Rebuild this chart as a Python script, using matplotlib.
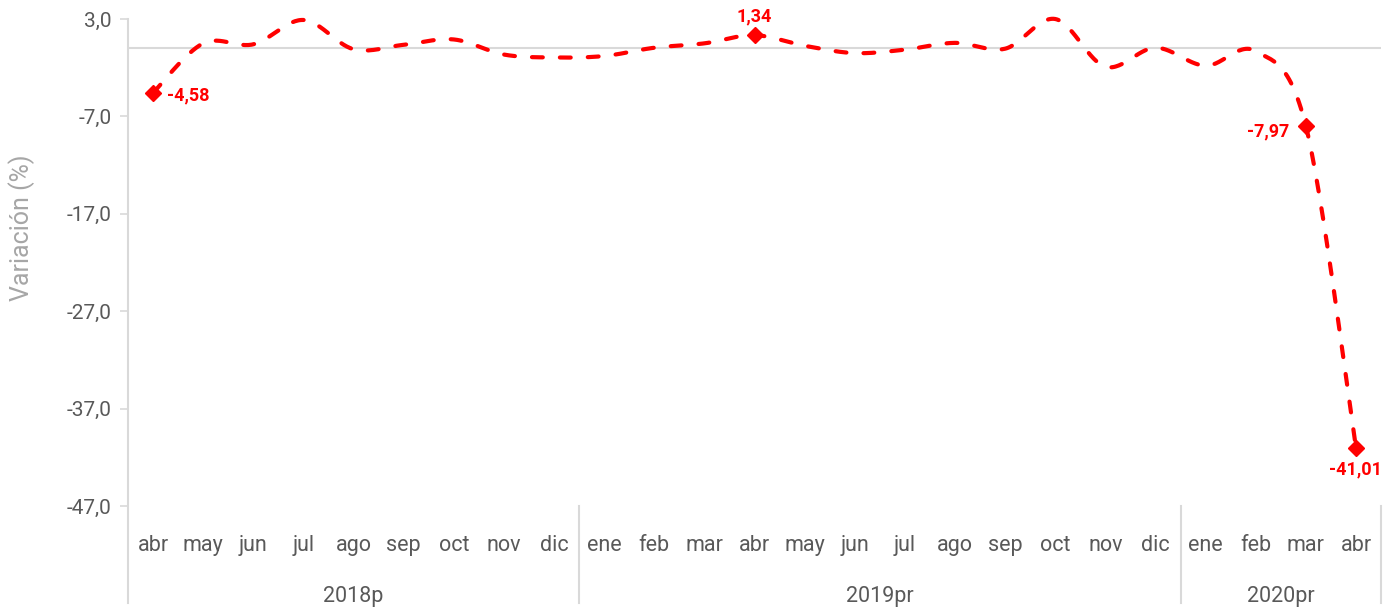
import numpy as np
import matplotlib
matplotlib.use("Agg")
import matplotlib.pyplot as plt

# ---- data ----
months = ["abr", "may", "jun", "jul", "ago", "sep", "oct", "nov", "dic",
          "ene", "feb", "mar", "abr", "may", "jun", "jul", "ago", "sep", "oct", "nov", "dic",
          "ene", "feb", "mar", "abr"]
values = [-4.58, 0.5, 0.4, 2.9, -0.1, 0.35, 0.9, -0.65, -0.95,
          -0.8, 0.05, 0.5, 1.34, 0.25, -0.5, -0.15, 0.55, -0.05, 3.0, -1.9, 0.05,
          -1.8, -0.3, -7.97, -41.01]
years = ["2018p", "2019pr", "2020pr"]
year_counts = [9, 12, 4]
labeled_idx = [0, 12, 23, 24]
yticks = [3.0, -7.0, -17.0, -27.0, -37.0, -47.0]

plt.rcParams['font.family'] = ['Roboto', 'DejaVu Sans']

RED = "#FF0000"
GRAY_TXT = "#595959"
GRAY_LINE = "#D9D9D9"

fig = plt.figure(figsize=(13.93, 6.12), dpi=100)
ax = fig.add_axes([128/1393, 1-506/612, (1381-128)/1393, (506-19)/612])

x = np.arange(len(values), dtype=float)
y = np.array(values, dtype=float)

# Catmull-Rom (Excel-like) smoothing through the data points
def smooth(xp, yp, n=30):
    P = np.column_stack([xp, yp])
    P = np.vstack([P[0], P, P[-1]])
    out = []
    for i in range(1, len(P) - 2):
        p0, p1, p2, p3 = P[i-1], P[i], P[i+1], P[i+2]
        c1 = p1 + (p2 - p0) / 6.0
        c2 = p2 - (p3 - p1) / 6.0
        t = np.linspace(0, 1, n, endpoint=(i == len(P) - 3))[:, None]
        b = ((1-t)**3)*p1 + 3*((1-t)**2)*t*c1 + 3*(1-t)*t**2*c2 + t**3*p2
        out.append(b)
    out = np.vstack(out)
    return out[:, 0], out[:, 1]

sx, sy = smooth(x, y)
ax.axhline(0, color=GRAY_LINE, lw=1.5, zorder=1)
ax.plot(sx, sy, color=RED, lw=3.0, linestyle=(0, (2.6, 4.1)),
        dash_capstyle='round', zorder=3, clip_on=False)
ax.plot(x[labeled_idx], y[labeled_idx], linestyle='none', marker='D',
        markersize=8.5, color=RED, zorder=4, clip_on=False)

def lab(v):
    return f"{v:.2f}".replace(".", ",")

offsets = {0: (10, -2, 'left', 'center'),
           12: (0, 7, 'center', 'bottom'),
           23: (-12, -4, 'right', 'center'),
           24: (0, -9, 'center', 'top')}
for i in labeled_idx:
    dx, dy, ha, va = offsets[i]
    ax.annotate(lab(values[i]), (x[i], y[i]), xytext=(dx, dy), textcoords='offset points',
                ha=ha, va=va, color=RED, fontsize=13, fontweight='bold', zorder=5)

ax.set_xlim(-0.5, len(values) - 0.5)
ax.set_ylim(-47, 3)
ax.set_yticks(yticks)
ax.set_yticklabels([f"{t:.1f}".replace(".", ",") for t in yticks])
ax.tick_params(axis='y', direction='out', length=6, width=1.2, color=GRAY_LINE,
               labelcolor=GRAY_TXT, labelsize=15, pad=6)
ax.set_xticks([])
for s in ['top', 'right', 'bottom', 'left']:
    ax.spines[s].set_visible(False)

trans = ax.get_xaxis_transform()
# left axis line extended through category area
ax.plot([-0.5, -0.5], [-0.2, 1.0], transform=trans, color=GRAY_LINE, lw=1.5, clip_on=False)
# month labels
for i, m in enumerate(months):
    ax.text(x[i], -0.082, m, transform=trans, ha='center', va='center',
            color=GRAY_TXT, fontsize=15.5)
# year groups
start = -0.5
for yr, c in zip(years, year_counts):
    end = start + c
    ax.plot([end, end], [-0.2, 0.0], transform=trans, color=GRAY_LINE, lw=1.5, clip_on=False)
    ax.text((start + end) / 2, -0.185, yr, transform=trans, ha='center', va='center',
            color=GRAY_TXT, fontsize=15.5)
    start = end

fig.text(22/1393, 1-228/612, "Variación (%)", rotation=90, ha='center', va='center',
         color="#A6A6A6", fontsize=18)

fig.savefig("out.png", dpi=100)
